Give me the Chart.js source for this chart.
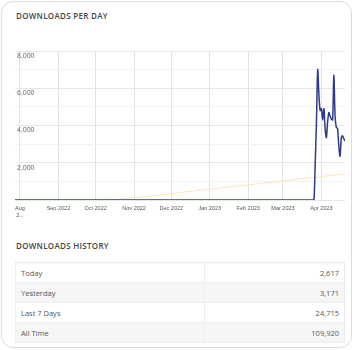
<!DOCTYPE html>
<html>
<head>
<meta charset="utf-8">
<meta name="format-detection" content="telephone=no">
<script src="https://cdn.jsdelivr.net/npm/chart.js@4/dist/chart.umd.min.js"></script>
<style>
    html, body { margin: 0; padding: 0; background: #fff; }
    body { width: 354px; height: 350px; position: relative; overflow: hidden; font-family: "Open Sans", sans-serif; }
    /* 外框卡片 */
    .card { position: absolute; left: 1px; top: 1px; width: 351px; height: 347px; box-sizing: border-box; border: 1px solid #dcdcdc; border-radius: 12px; }
    .title { position: absolute; left: 16px; font-size: 8px; line-height: 10px; letter-spacing: 0.3px; color: #444; font-weight: 600; }
    #title1 { top: 11px; }
    #title2 { top: 241px; }
    .chartBox { position: absolute; left: 0; top: 40px; width: 354px; height: 185px; }
    table { position: absolute; left: 15px; top: 262px; width: 330px; border-collapse: collapse; font-size: 7.5px; color: #555; }
    tr { height: 20px; }
    td { border: 1px solid #eee; padding: 0 5px; color: #555; }
    td.k { width: 178px; }
    td.v { text-align: right; }
    tr:nth-child(even) td { background: #f6f6f6; }
</style>
</head>
<body>
<div class="card"></div>
<div class="title" id="title1">DOWNLOADS PER DAY</div>
<div class="chartBox"><canvas id="lineChart"></canvas></div>
<div class="title" id="title2">DOWNLOADS HISTORY</div>
<table id="history"></table>

<script>
    // 每日下载量：开始日期之前全为 0，只记录最后一段
    var startDate = '2022-07-28';
    var endDate = '2023-04-20';
    var spikeStart = '2023-03-26';
    var spikeDownloads = [0, 2000, 4200, 7000, 5600, 4800, 4900, 4300, 4900, 3800, 3350, 4200, 4700,
        4500, 4350, 4300, 6700, 4500, 3900, 3850, 2900, 2350, 3300, 3450, 3300, 3170];

    // 趋势线 首尾值
    var trendValues = [-600, 1400];

    // 横轴刻度（每月一号）
    var tickDates = ['2022-08-01', '2022-09-01', '2022-10-01', '2022-11-01', '2022-12-01',
        '2023-01-01', '2023-02-01', '2023-03-01', '2023-04-01'];
    var tickLabels = [['Aug', '2...'], 'Sep 2022', 'Oct 2022', 'Nov 2022', 'Dec 2022',
        'Jan 2023', 'Feb 2023', 'Mar 2023', 'Apr 2023'];

    // 表格
    var historyLabels = ['Today', 'Yesterday', 'Last 7 Days', 'All Time'];
    var historyValues = ['2,617', '3,171', '24,715', '109,920'];

    function dayIndex(d) {
        return Math.round((Date.parse(d) - Date.parse(startDate)) / 86400000);
    }

    var lastDay = dayIndex(endDate);
    var spikeIdx = dayIndex(spikeStart);
    var dailyPoints = [];
    for (var i = 0; i <= lastDay; i++) {
        dailyPoints.push({x: i, y: i < spikeIdx ? 0 : spikeDownloads[i - spikeIdx]});
    }
    var trendPoints = [{x: 0, y: trendValues[0]}, {x: lastDay, y: trendValues[1]}];

    var rows = '';
    for (var r = 0; r < historyLabels.length; r++) {
        rows += '<tr><td class="k">' + historyLabels[r] + '</td><td class="v">' + historyValues[r] + '</td></tr>';
    }
    document.getElementById('history').innerHTML = rows;

    Chart.defaults.font.family = '"Liberation Sans", Arial, sans-serif';

    new Chart(document.getElementById('lineChart'), {
        type: 'line',
        data: {
            datasets: [
                {
                    data: dailyPoints,
                    borderColor: '#2e3b87',
                    borderWidth: 1.5,
                    pointRadius: 0,
                    tension: 0.3,
                    fill: false
                },
                {
                    data: trendPoints,
                    borderColor: '#fde4bd',
                    borderWidth: 1,
                    pointRadius: 0,
                    fill: false
                }
            ]
        },
        options: {
            responsive: true,
            maintainAspectRatio: false,
            animation: false,
            layout: {padding: {left: 15, right: 9, top: 11, bottom: 0}},
            plugins: {legend: {display: false}, tooltip: {enabled: false}},
            scales: {
                x: {
                    type: 'linear',
                    min: 0,
                    max: lastDay,
                    border: {display: false},
                    grid: {color: '#e2e2e2', drawTicks: false},
                    afterBuildTicks: function (scale) {
                        scale.ticks = tickDates.map(function (d) { return {value: dayIndex(d)}; });
                    },
                    afterFit: function (scale) { scale.height = 25; },
                    ticks: {
                        autoSkip: false,
                        maxRotation: 0,
                        padding: 4,
                        color: '#555',
                        font: {size: 5.5, lineHeight: 1.45},
                        callback: function (value, index) { return tickLabels[index]; }
                    }
                },
                y: {
                    min: 0,
                    max: 8000,
                    border: {display: false},
                    grid: {
                        drawTicks: false,
                        color: function (ctx) { return ctx.tick.value % 2000 === 0 ? '#e6e6e6' : '#f3f3f3'; }
                    },
                    afterFit: function (scale) { scale.width = 0; },
                    ticks: {
                        stepSize: 1000,
                        mirror: true,
                        padding: 2,
                        labelOffset: 5,
                        color: '#666',
                        font: {size: 7},
                        callback: function (value) {
                            return (value % 2000 === 0 && value > 0) ? value.toLocaleString('en-US') : '';
                        }
                    }
                }
            }
        }
    });
</script>
</body>
</html>
